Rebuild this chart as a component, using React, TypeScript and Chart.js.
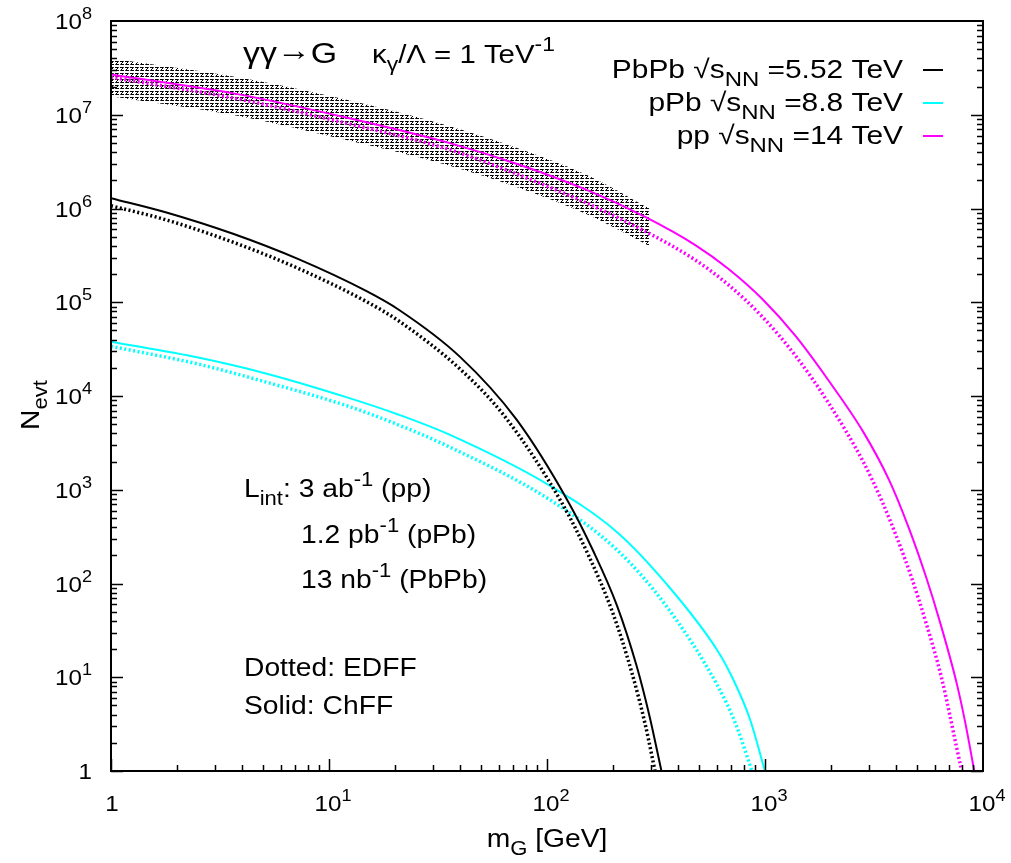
import React, { useEffect, useRef } from "react";
import { Chart, registerables } from "chart.js";

Chart.register(...registerables);

// ---------- data (m_G in GeV, N_evt) ----------
const ppChffM = [1, 3.8, 11.5, 35.5, 74.1, 155, 282, 479, 676, 977, 1380, 1950, 2818, 3715, 4571, 5495, 6310, 7586, 8318, 9120];
const ppChffN = [2.69e7, 1.66e7, 9.55e6, 5.01e6, 2.95e6, 1.55e6, 8.13e5, 4.07e5, 2.29e5, 1.07e5, 4.37e4, 1.48e4, 4.17e3, 1.26e3, 389, 115, 40.7, 8.5, 3.16, 1.0];

const ppEdffM = [1, 3.8, 11.5, 35.5, 74.1, 155, 302, 479, 676, 977, 1380, 1950, 2818, 3467, 4074, 4677, 5495, 6457, 7943, 8000];
const ppEdffN = [2.51e7, 1.48e7, 8.32e6, 4.27e6, 2.29e6, 1.12e6, 5.25e5, 2.82e5, 1.55e5, 6.92e4, 2.69e4, 8.51e3, 2.0e3, 724, 288, 120, 37.2, 9.8, 1.07, 1.0];

const bandM = [1, 3.8, 11.5, 35.5, 74.1, 155, 295];
const bandTopN = [3.98e7, 2.51e7, 1.48e7, 7.59e6, 4.37e6, 2.24e6, 1.0e6];
const bandLowN = [1.58e7, 9.77e6, 5.5e6, 2.88e6, 1.66e6, 8.51e5, 3.98e5];

const pbpbChffM = [1, 1.78, 3.63, 7.24, 14.8, 20.9, 39.8, 72.4, 126, 162, 209, 257, 295, 335];
const pbpbChffN = [1.29e6, 9.12e5, 5.37e5, 2.88e5, 1.32e5, 8.32e4, 2.63e4, 5.62e3, 724, 229, 58.9, 13.5, 3.89, 1.0];

const pbpbEdffM = [1, 1.78, 3.63, 7.24, 14.8, 20.9, 39.8, 64.6, 117, 155, 200, 245, 282, 313];
const pbpbEdffN = [1.07e6, 7.59e5, 4.37e5, 2.29e5, 1.02e5, 6.31e4, 1.95e4, 5.89e3, 724, 200, 49, 11.2, 3.16, 1.0];

const ppbChffM = [1, 2.51, 5.13, 12.3, 20.9, 35.5, 102, 209, 355, 603, 724, 851, 1000];
const ppbChffN = [3.8e4, 2.57e4, 1.74e4, 9.55e3, 6.31e3, 3.89e3, 1.12e3, 355, 97.7, 19.5, 8.9, 3.63, 1.0];

const ppbEdffM = [1, 2.51, 5.13, 12.3, 20.9, 35.5, 102, 209, 355, 603, 741, 871];
const ppbEdffN = [3.39e4, 2.19e4, 1.41e4, 7.76e3, 4.9e3, 2.88e3, 794, 229, 56.2, 8.3, 3.0, 1.0];

const xTickExps = [0, 1, 2, 3, 4];
const yTickExps = [0, 1, 2, 3, 4, 5, 6, 7, 8];

const legendLabels = [
  { pre: "PbPb \u221As", sub: "NN", post: " =5.52 TeV", color: "#000000" },
  { pre: "pPb \u221As", sub: "NN", post: " =8.8 TeV", color: "#00ffff" },
  { pre: "pp \u221As", sub: "NN", post: " =14 TeV", color: "#ff00ff" },
];

const FONT = '"Liberation Sans", Arial, Helvetica, sans-serif';
const STRETCH = 1.13;

type Seg = { t: string; s?: "sub" | "sup"; dy?: number };

function pts(m: number[], n: number[]) {
  return m.map((x, i) => ({ x, y: n[i] }));
}

function drawRich(
  ctx: CanvasRenderingContext2D,
  segs: Seg[],
  x: number,
  y: number,
  size: number,
  align: "left" | "right" | "center",
  small = 0.78,
  stretch = STRETCH
) {
  ctx.textAlign = "left";
  ctx.textBaseline = "alphabetic";
  const sizes = segs.map((s) => (s.s ? size * small : size));
  const widths: number[] = [];
  let w = 0;
  segs.forEach((s, i) => {
    ctx.font = `${sizes[i]}px ${FONT}`;
    const ww = ctx.measureText(s.t).width * stretch;
    widths.push(ww);
    w += ww;
  });
  let cx = align === "right" ? x - w : align === "center" ? x - w / 2 : x;
  segs.forEach((s, i) => {
    ctx.font = `${sizes[i]}px ${FONT}`;
    const dy = (s.s === "sub" ? size * 0.3 : s.s === "sup" ? -size * 0.45 : 0) + (s.dy || 0);
    ctx.save();
    ctx.translate(cx, y + dy);
    ctx.scale(stretch, 1);
    ctx.fillText(s.t, 0, 0);
    ctx.restore();
    cx += widths[i];
  });
}

function makeHatch(ctx: CanvasRenderingContext2D): CanvasPattern | string {
  const c = document.createElement("canvas");
  c.width = 5;
  c.height = 6;
  const g = c.getContext("2d")!;
  g.strokeStyle = "#000";
  g.lineWidth = 1;
  g.beginPath();
  g.moveTo(0, 1.5);
  g.lineTo(3.5, 1.5);
  g.lineTo(0.5, 4.5);
  g.lineTo(4, 4.5);
  g.stroke();
  return ctx.createPattern(c, "repeat") || "rgba(0,0,0,0.4)";
}

const overlay = {
  id: "overlay",
  afterDraw(chart: any) {
    const ctx: CanvasRenderingContext2D = chart.ctx;
    const xs = chart.scales.x;
    const ys = chart.scales.y;
    const a = chart.chartArea;
    ctx.save();
    ctx.fillStyle = "#000";
    ctx.strokeStyle = "#000";

    // frame
    ctx.lineWidth = 2;
    ctx.strokeRect(a.left, a.top, a.right - a.left, a.bottom - a.top);

    // ticks
    ctx.lineWidth = 1.5;
    ctx.beginPath();
    for (let e = 0; e < 8; e++) {
      for (let k = 1; k <= 9; k++) {
        const v = k * Math.pow(10, e);
        const py = Math.round(ys.getPixelForValue(v)) + 0.5;
        const len = k === 1 ? 12 : 6;
        ctx.moveTo(a.left, py);
        ctx.lineTo(a.left + len, py);
        ctx.moveTo(a.right, py);
        ctx.lineTo(a.right - len, py);
      }
    }
    for (let e = 0; e < 4; e++) {
      for (let k = 1; k <= 9; k++) {
        const v = k * Math.pow(10, e);
        const px = Math.round(xs.getPixelForValue(v)) + 0.5;
        const len = k === 1 ? 12 : 6;
        ctx.moveTo(px, a.bottom);
        ctx.lineTo(px, a.bottom - len);
      }
    }
    ctx.stroke();

    // tick labels
    const TS = 22;
    yTickExps.forEach((e) => {
      const py = ys.getPixelForValue(Math.pow(10, e));
      const segs: Seg[] = e === 0 ? [{ t: "1" }] : [{ t: "10" }, { t: String(e), s: "sup" }];
      drawRich(ctx, segs, 92, py + 8, TS, "right", 0.75, 1.1);
    });
    xTickExps.forEach((e) => {
      const px = xs.getPixelForValue(Math.pow(10, e));
      const segs: Seg[] = e === 0 ? [{ t: "1" }] : [{ t: "10" }, { t: String(e), s: "sup" }];
      drawRich(ctx, segs, px + (e === 0 ? 1 : 4), 811, TS, "center", 0.75, 1.1);
    });

    // axis titles
    drawRich(ctx, [{ t: "m" }, { t: "G", s: "sub" }, { t: " [GeV]" }], (a.left + a.right) / 2, 847, 25, "center");
    ctx.save();
    ctx.translate(39, 405);
    ctx.rotate(-Math.PI / 2);
    drawRich(ctx, [{ t: "N" }, { t: "evt", s: "sub" }], 0, 0, 25, "center");
    ctx.restore();

    // annotations
    drawRich(ctx, [{ t: "\u03B3\u03B3" }, { t: "\u2192", dy: -3 }, { t: "G" }], 243, 63, 30, "left");
    drawRich(ctx, [{ t: "\u03BA" }, { t: "\u03B3", s: "sub" }, { t: "/\u039B = 1 TeV" }, { t: "-1", s: "sup" }], 372, 63, 26, "left");

    drawRich(ctx, [{ t: "L" }, { t: "int", s: "sub" }, { t: ": 3 ab" }, { t: "-1", s: "sup" }, { t: " (pp)" }], 244, 497, 25, "left");
    drawRich(ctx, [{ t: "1.2 pb" }, { t: "-1", s: "sup" }, { t: " (pPb)" }], 301, 543, 25, "left");
    drawRich(ctx, [{ t: "13 nb" }, { t: "-1", s: "sup" }, { t: " (PbPb)" }], 301, 588, 25, "left");
    drawRich(ctx, [{ t: "Dotted: EDFF" }], 244, 676, 25, "left");
    drawRich(ctx, [{ t: "Solid: ChFF" }], 244, 714, 25, "left");

    // legend
    legendLabels.forEach((l, i) => {
      const by = 78 + i * 33;
      ctx.fillStyle = "#000";
      drawRich(ctx, [{ t: l.pre }, { t: l.sub, s: "sub" }, { t: l.post }], 903, by, 26, "right", 0.8, 1.15);
      ctx.strokeStyle = l.color;
      ctx.lineWidth = 2;
      ctx.beginPath();
      ctx.moveTo(923, by - 8);
      ctx.lineTo(943, by - 8);
      ctx.stroke();
    });

    ctx.restore();
  },
};

export default function App() {
  const ref = useRef<HTMLCanvasElement>(null);
  useEffect(() => {
    const canvas = ref.current!;
    const ctx = canvas.getContext("2d")!;
    const hatch = makeHatch(ctx);
    const solid = (data: any, color: string) => ({
      data,
      borderColor: color,
      borderWidth: 2,
      fill: false,
      pointRadius: 0,
      cubicInterpolationMode: "monotone" as const,
    });
    const dotted = (data: any, color: string) => ({
      data,
      borderColor: color,
      borderWidth: 3.5,
      borderDash: [2, 2.5],
      borderCapStyle: "butt" as const,
      fill: false,
      pointRadius: 0,
      cubicInterpolationMode: "monotone" as const,
    });
    const chart = new Chart(ctx, {
      type: "line",
      data: {
        datasets: [
          solid(pts(ppChffM, ppChffN), "#ff00ff"),
          dotted(pts(ppEdffM, ppEdffN), "#ff00ff"),
          solid(pts(pbpbChffM, pbpbChffN), "#000000"),
          dotted(pts(pbpbEdffM, pbpbEdffN), "#000000"),
          solid(pts(ppbChffM, ppbChffN), "#00ffff"),
          dotted(pts(ppbEdffM, ppbEdffN), "#00ffff"),
          {
            data: pts(bandM, bandTopN),
            borderColor: "rgba(0,0,0,0)",
            borderWidth: 0,
            backgroundColor: hatch as any,
            fill: "+1",
            pointRadius: 0,
            cubicInterpolationMode: "monotone" as const,
          },
          {
            data: pts(bandM, bandLowN),
            borderColor: "rgba(0,0,0,0)",
            borderWidth: 0,
            fill: false,
            pointRadius: 0,
            cubicInterpolationMode: "monotone" as const,
          },
        ],
      },
      options: {
        animation: false,
        responsive: false,
        devicePixelRatio: 1,
        layout: { padding: { left: 111, right: 28, top: 21, bottom: 92 } },
        plugins: { legend: { display: false }, tooltip: { enabled: false } },
        scales: {
          x: { type: "logarithmic", min: 1, max: 10000, display: false },
          y: { type: "logarithmic", min: 1, max: 1e8, display: false },
        },
      },
      plugins: [overlay],
    } as any);
    return () => chart.destroy();
  }, []);
  return (
    <div style={{ position: "fixed", left: 0, top: 0, width: 1011, height: 863, background: "#fff" }}>
      <canvas ref={ref} width={1011} height={863} style={{ display: "block" }} />
    </div>
  );
}
